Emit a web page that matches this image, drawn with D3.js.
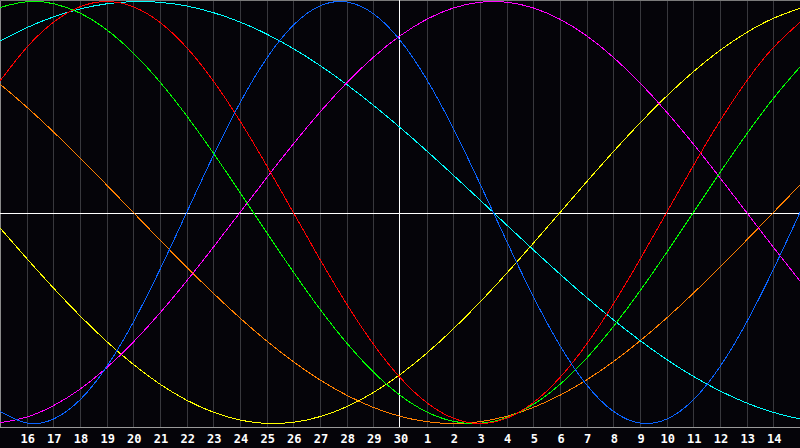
<!DOCTYPE html>
<html><head><meta charset="utf-8">
<script src="https://cdn.jsdelivr.net/npm/d3@7"></script>
<style>
html,body{margin:0;padding:0;background:#050409;}
svg{display:block;}
</style></head>
<body>
<svg id="c" width="800" height="448"></svg>
<script>
// day index 0..30 (0 = day 15 at left edge)
const dayLabels = ["16","17","18","19","20","21","22","23","24","25","26","27","28","29","30","1","2","3","4","5","6","7","8","9","10","11","12","13","14"];
const blue = [-0.9423,-0.9977,-0.9791,-0.8879,-0.7308,-0.5196,-0.2698,0,0.2698,0.5196,0.7308,0.8879,0.9791,0.9977,0.9423,0.8170,0.6311,0.3984,0.1362,-0.1362,-0.3984,-0.6311,-0.8170,-0.9423,-0.9977,-0.9791,-0.8879,-0.7308,-0.5196,-0.2698,0];
const red = [0.6235,0.7818,0.9010,0.9749,1,0.9749,0.9010,0.7818,0.6235,0.4339,0.2225,0,-0.2225,-0.4339,-0.6235,-0.7818,-0.9010,-0.9749,-1,-0.9749,-0.9010,-0.7818,-0.6235,-0.4339,-0.2225,0,0.2225,0.4339,0.6235,0.7818,0.9010];
const green = [0.9718,0.9989,0.9898,0.9450,0.8660,0.7557,0.6182,0.4582,0.2817,0.0951,-0.0951,-0.2817,-0.4582,-0.6182,-0.7557,-0.8660,-0.9450,-0.9898,-0.9989,-0.9718,-0.9096,-0.8146,-0.6901,-0.5406,-0.3717,-0.1893,0,0.1893,0.3717,0.5406,0.6901];
const magenta = [-0.9966,-0.9694,-0.9158,-0.8372,-0.7357,-0.6142,-0.4759,-0.3247,-0.1646,0,0.1646,0.3247,0.4759,0.6142,0.7357,0.8372,0.9158,0.9694,0.9966,0.9966,0.9694,0.9158,0.8372,0.7357,0.6142,0.4759,0.3247,0.1646,0,-0.1646,-0.3247];
const yellow = [-0.0730,-0.2174,-0.3572,-0.4895,-0.6112,-0.7199,-0.8136,-0.8894,-0.9465,-0.9834,-0.9993,-0.9940,-0.9675,-0.9203,-0.8533,-0.7684,-0.6671,-0.5517,-0.4245,-0.2881,-0.1456,0,0.1456,0.2881,0.4245,0.5517,0.6671,0.7684,0.8533,0.9203,0.9675];
const orange = [0.6088,0.5,0.3827,0.2588,0.1305,0,-0.1305,-0.2588,-0.3827,-0.5,-0.6088,-0.7071,-0.7934,-0.8660,-0.9239,-0.9659,-0.9914,-1,-0.9914,-0.9659,-0.9239,-0.8660,-0.7934,-0.7071,-0.6088,-0.5,-0.3827,-0.2588,-0.1305,0,0.1305];
const cyan = [0.8126,0.8757,0.9267,0.9646,0.9890,0.9996,0.9961,0.9786,0.9473,0.9028,0.8457,0.7767,0.6966,0.6069,0.5084,0.4031,0.2921,0.1769,0.0592,-0.0592,-0.1769,-0.2921,-0.4031,-0.5084,-0.6069,-0.6966,-0.7767,-0.8457,-0.9028,-0.9473,-0.9786];

const seriesList = [
  {values: orange, color: "#ff8000"},
  {values: yellow, color: "#ffff00"},
  {values: cyan, color: "#00ffff"},
  {values: magenta, color: "#ff00ff"},
  {values: green, color: "#00ff00"},
  {values: red, color: "#ff0000"},
  {values: blue, color: "#0a64ff"}
];

const svg = d3.select("#c");
const W = 800, plotBottom = 428;
const x = d3.scaleLinear().domain([0, 30]).range([0, W]);
const y = d3.scaleLinear().domain([-1, 1]).range([423.5, 1.5]);

svg.append("rect").attr("width", 800).attr("height", 448).attr("fill", "#050409");

// vertical grid
const gridDays = d3.range(1, 30).filter(d => d !== 15);
svg.append("g").selectAll("line").data(gridDays).join("line")
  .attr("x1", d => Math.round(x(d)) + 0.5).attr("x2", d => Math.round(x(d)) + 0.5)
  .attr("y1", 0).attr("y2", plotBottom)
  .attr("stroke", "#38383d").attr("stroke-width", 1).attr("shape-rendering", "crispEdges");

// borders
svg.append("line").attr("x1", 0.5).attr("x2", 0.5).attr("y1", 0).attr("y2", plotBottom)
  .attr("stroke", "#8a8a8a").attr("shape-rendering", "crispEdges");
svg.append("line").attr("x1", 0).attr("x2", W).attr("y1", 0.5).attr("y2", 0.5)
  .attr("stroke", "#7a7a7a").attr("shape-rendering", "crispEdges");
svg.append("line").attr("x1", 0).attr("x2", W).attr("y1", plotBottom - 0.5).attr("y2", plotBottom - 0.5)
  .attr("stroke", "#9a9a9a").attr("shape-rendering", "crispEdges");

// center cross
svg.append("line").attr("x1", x(15) - 0.5).attr("x2", x(15) - 0.5).attr("y1", 0).attr("y2", plotBottom - 1)
  .attr("stroke", "#ffffff").attr("shape-rendering", "crispEdges");
svg.append("line").attr("x1", 0).attr("x2", W).attr("y1", 213.5).attr("y2", 213.5)
  .attr("stroke", "#ffffff").attr("shape-rendering", "crispEdges");

// curves
const line = d3.line().x((d, i) => x(i)).y(d => y(d)).curve(d3.curveNatural);
svg.append("g").selectAll("path").data(seriesList).join("path")
  .attr("d", s => line(s.values))
  .attr("fill", "none").attr("stroke", s => s.color).attr("stroke-width", 1)
  .attr("shape-rendering", "crispEdges");

// day labels
const xAxis = d3.axisBottom(x).tickValues(d3.range(1, 30)).tickFormat(d => dayLabels[d - 1]).tickSize(0).tickPadding(6);
const ax = svg.append("g").attr("transform", `translate(0.5,${plotBottom})`).call(xAxis);
ax.select(".domain").remove();
ax.selectAll("text").attr("fill", "#ffffff").attr("font-family", "'DejaVu Sans Mono', monospace")
  .attr("font-weight", "bold").attr("font-size", 12).attr("y", 6.5).attr("dy", "0.71em");
</script>
</body></html>
